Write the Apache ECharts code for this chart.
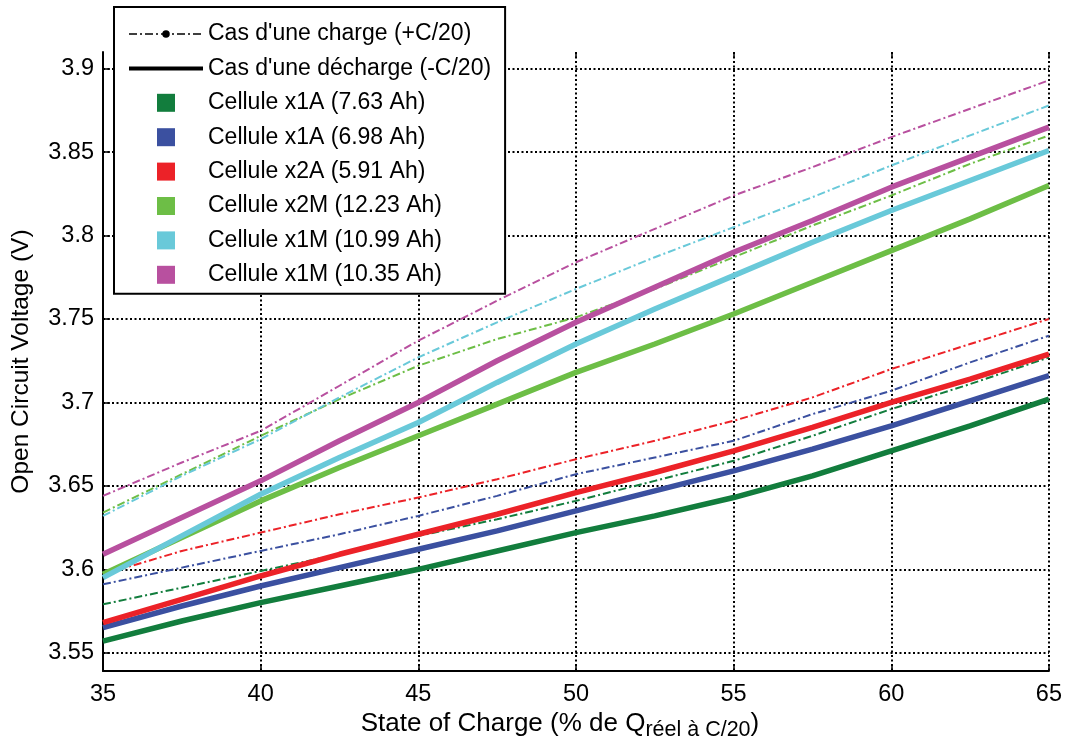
<!DOCTYPE html>
<html>
<head>
<meta charset="utf-8">
<script src="https://cdn.jsdelivr.net/npm/echarts@6/dist/echarts.min.js"></script>
<style>
html,body{margin:0;padding:0;background:#fff;}
#c{width:1065px;height:746px;}
</style>
</head>
<body>
<div id="c"></div>
<script>
// ---- data ----
const soc = [35, 37.5, 40, 42.5, 45, 47.5, 50, 52.5, 55, 57.5, 60, 62.5, 65];
const yTicks = [3.55, 3.6, 3.65, 3.7, 3.75, 3.8, 3.85, 3.9];

const cellNames = [
  'Cellule x1A (7.63 Ah)',
  'Cellule x1A (6.98 Ah)',
  'Cellule x2A (5.91 Ah)',
  'Cellule x2M (12.23 Ah)',
  'Cellule x1M (10.99 Ah)',
  'Cellule x1M (10.35 Ah)'
];
const cellColors = ['#127d3d', '#3b50a0', '#ec2228', '#6dbe46', '#69c9d9', '#b8509f'];

const chargeName = "Cas d'une charge (+C/20)";
const dischargeName = "Cas d'une décharge (-C/20)";
const yAxisTitle = 'Open Circuit Voltage (V)';

// charge (+C/20) curves
const chg_x1A_763 = [3.579, 3.589, 3.599, 3.609, 3.620, 3.630, 3.641, 3.653, 3.665, 3.680, 3.696, 3.711, 3.727];
const chg_x1A_698 = [3.591, 3.601, 3.611, 3.621, 3.632, 3.644, 3.657, 3.667, 3.677, 3.693, 3.707, 3.724, 3.740];
const chg_x2A_591 = [3.597, 3.611, 3.622, 3.633, 3.643, 3.654, 3.666, 3.677, 3.689, 3.703, 3.720, 3.735, 3.750];
const chg_x2M_1223 = [3.634, 3.657, 3.680, 3.702, 3.722, 3.738, 3.751, 3.768, 3.787, 3.806, 3.824, 3.843, 3.860];
const chg_x1M_1099 = [3.632, 3.656, 3.678, 3.703, 3.727, 3.748, 3.768, 3.787, 3.805, 3.823, 3.842, 3.860, 3.878];
const chg_x1M_1035 = [3.644, 3.664, 3.683, 3.710, 3.737, 3.761, 3.784, 3.804, 3.824, 3.841, 3.859, 3.876, 3.893];

// discharge (-C/20) curves
const dis_x1A_763 = [3.557, 3.569, 3.580, 3.590, 3.600, 3.611, 3.622, 3.632, 3.643, 3.656, 3.671, 3.686, 3.702];
const dis_x1A_698 = [3.565, 3.578, 3.590, 3.601, 3.612, 3.623, 3.635, 3.647, 3.659, 3.672, 3.686, 3.701, 3.716];
const dis_x2A_591 = [3.568, 3.582, 3.596, 3.609, 3.621, 3.633, 3.646, 3.658, 3.671, 3.685, 3.700, 3.714, 3.729];
const dis_x2M_1223 = [3.597, 3.619, 3.641, 3.661, 3.680, 3.699, 3.718, 3.735, 3.753, 3.772, 3.791, 3.810, 3.830];
const dis_x1M_1099 = [3.595, 3.620, 3.645, 3.667, 3.688, 3.712, 3.735, 3.756, 3.776, 3.796, 3.815, 3.833, 3.851];
const dis_x1M_1035 = [3.609, 3.631, 3.653, 3.677, 3.700, 3.725, 3.748, 3.769, 3.790, 3.809, 3.829, 3.847, 3.865];

const chargeSets = [chg_x1A_763, chg_x1A_698, chg_x2A_591, chg_x2M_1223, chg_x1M_1099, chg_x1M_1035];
const dischargeSets = [dis_x1A_763, dis_x1A_698, dis_x2A_591, dis_x2M_1223, dis_x1M_1099, dis_x1M_1035];

// ---- chart ----
const FONT = "'Liberation Sans', Arial, Helvetica, sans-serif";
const dashDot = [8, 3, 2, 3];
const zip = ys => soc.map((x, i) => [x, ys[i]]);

// small dot centred in a larger (invisible) box so the legend marker stays small
const smallDot = 'path://M0,0M10,10M5,2.4A2.6,2.6,0,1,1,5,7.6A2.6,2.6,0,1,1,5,2.4Z';

const series = [];
series.push({
  name: chargeName, type: 'line', data: [],
  symbol: smallDot, symbolSize: 6,
  itemStyle: {color: '#000'},
  lineStyle: {color: '#000', width: 1.5, type: dashDot}
});
series.push({
  name: dischargeName, type: 'line', data: [],
  symbol: 'circle',
  itemStyle: {color: 'rgba(0,0,0,0)'},
  lineStyle: {color: '#000', width: 4}
});
cellNames.forEach((n, i) => {
  series.push({
    name: n, type: 'line', data: zip(dischargeSets[i]),
    showSymbol: false, symbol: 'none', silent: true,
    itemStyle: {color: cellColors[i]},
    lineStyle: {color: cellColors[i], width: 5.5},
    z: 3
  });
});
cellNames.forEach((n, i) => {
  series.push({
    name: n, type: 'line', data: zip(chargeSets[i]),
    showSymbol: false, symbol: 'none', silent: true,
    itemStyle: {color: cellColors[i]},
    lineStyle: {color: cellColors[i], width: 2, type: dashDot},
    z: 2
  });
});

const squareIcon = 'path://M0,0L10,0L10,10L0,10Z';
const legendData = [
  {name: chargeName, lineStyle: {width: 1.5}},
  {name: dischargeName, lineStyle: {width: 4}}
].concat(cellNames.map(n => ({name: n, icon: squareIcon})));

const chart = echarts.init(document.getElementById('c'), null, {renderer: 'canvas'});
chart.setOption({
  animation: false,
  backgroundColor: '#fff',
  textStyle: {fontFamily: FONT},
  grid: {left: 103, right: 14, top: 52, bottom: 73, containLabel: false},
  legend: {
    orient: 'vertical', left: 114, top: 7,
    data: legendData,
    itemWidth: 74, itemHeight: 18, itemGap: 11.4, itemTextGap: 7,
    padding: [15.5, 14, 7.5, 13],
    borderColor: '#000', borderWidth: 2,
    backgroundColor: '#fff',
    selectedMode: false,
    textStyle: {fontSize: 23, color: '#000', fontFamily: FONT},
    z: 10
  },
  xAxis: [{
    type: 'value', min: 35, max: 65, interval: 5,
    axisLine: {show: true, lineStyle: {color: '#000', width: 2}},
    axisTick: {show: true, inside: true, length: 7, lineStyle: {color: '#000', width: 1.5}},
    axisLabel: {fontSize: 23.5, color: '#000', fontFamily: FONT, margin: 11},
    splitLine: {show: true, lineStyle: {color: '#000', width: 2, type: [2, 2.5]}},
    name: '{a|State of Charge (% de Q}{s|réel à C/20}{a|)}',
    nameLocation: 'middle', nameGap: 33,
    nameTextStyle: {
      color: '#000',
      padding: [0, 32, 0, 0],
      rich: {
        a: {fontSize: 26, fontFamily: FONT, color: '#000', lineHeight: 30, verticalAlign: 'top'},
        s: {fontSize: 21.5, fontFamily: FONT, color: '#000', lineHeight: 20, verticalAlign: 'bottom'}
      }
    }
  }, {
    type: 'value', min: 35, max: 65, interval: 5, position: 'top',
    axisLine: {show: false},
    axisTick: {show: true, inside: true, length: 6, lineStyle: {color: '#000', width: 1.5}},
    axisLabel: {show: false},
    splitLine: {show: false}
  }],
  yAxis: {
    type: 'value', min: 3.539, max: 3.91,
    axisLine: {show: true, lineStyle: {color: '#000', width: 2}},
    axisTick: {show: true, inside: true, length: 7, customValues: yTicks, lineStyle: {color: '#000', width: 1.5}},
    axisLabel: {fontSize: 23.5, color: '#000', fontFamily: FONT, margin: 9, customValues: yTicks,
      formatter: v => String(Math.round(v * 100) / 100)},
    splitLine: {show: true, lineStyle: {color: '#000', width: 2, type: [2, 2.5]}},
    name: yAxisTitle,
    nameLocation: 'middle', nameGap: 69,
    nameTruncate: {maxWidth: 2000, ellipsis: ''},
    nameTextStyle: {fontSize: 24.5, color: '#000', fontFamily: FONT, overflow: 'none', width: 600}
  },
  series: series
});
</script>
</body>
</html>
